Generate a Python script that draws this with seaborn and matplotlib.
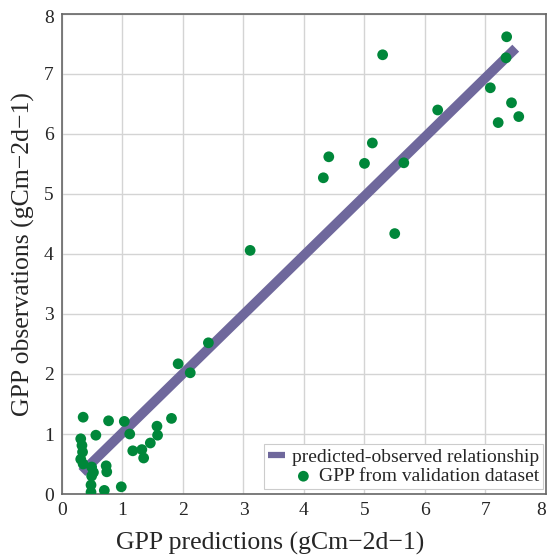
import matplotlib
matplotlib.use("Agg")
import matplotlib.pyplot as plt
import matplotlib.transforms as mtransforms
import seaborn as sns
import pandas as pd

# Data
pred = [0.35, 0.77, 1.03, 1.81, 1.57, 1.58, 0.56, 1.12, 1.46, 0.31, 0.33, 0.34, 0.31, 0.35,
        1.17, 1.32, 1.35, 0.73, 0.74, 0.49, 0.52, 0.49, 0.48, 0.48, 0.70, 0.98,
        2.42, 1.92, 2.12, 3.11,
        7.35, 7.34, 5.30, 7.08, 7.43, 7.55, 7.21, 6.21, 5.13, 4.41, 4.32, 5.00, 5.65, 5.50]
obs = [1.28, 1.22, 1.21, 1.26, 1.13, 0.98, 0.98, 1.00, 0.85, 0.92, 0.81, 0.70, 0.58, 0.50,
       0.72, 0.74, 0.60, 0.47, 0.37, 0.45, 0.36, 0.30, 0.15, 0.03, 0.06, 0.12,
       2.52, 2.17, 2.02, 4.06,
       7.62, 7.27, 7.32, 6.77, 6.52, 6.29, 6.19, 6.40, 5.85, 5.62, 5.27, 5.51, 5.52, 4.34]
line_x = [0.33, 7.50]
line_y = [0.36, 7.43]
ticks = [0, 1, 2, 3, 4, 5, 6, 7, 8]

sns.set_theme(style="whitegrid")
plt.rcParams['font.family'] = ['Liberation Serif', 'DejaVu Serif']

fig = plt.figure(figsize=(5.49, 5.57), dpi=100)
ax = fig.add_axes([0.1129, 0.1131, 0.8816, 0.8618])

sns.lineplot(x=line_x, y=line_y, ax=ax, color="#6f689c", linewidth=7,
             label="predicted-observed relationship", solid_capstyle="butt")
sns.scatterplot(x=pred, y=obs, ax=ax, color="#00873a", s=60, edgecolor="none",
                label="GPP from validation dataset", zorder=3)

ax.set_xlim(0, 8)
ax.set_ylim(0, 8)
ax.set_xticks(ticks)
ax.set_yticks(ticks)
ax.set_xticklabels([str(t) for t in ticks], fontsize=14)
ax.set_yticklabels([str(t) for t in ticks], fontsize=14)
ax.tick_params(axis="x", length=0, pad=6)
ax.tick_params(axis="y", length=0, pad=6)
ax.get_xticklabels()[-1].set_horizontalalignment("right")
shift = mtransforms.ScaledTranslation(0, -3 / 100, fig.dpi_scale_trans)
ylab_top = ax.get_yticklabels()[-1]
ylab_top.set_transform(ylab_top.get_transform() + shift)
ax.grid(True, color="#d4d4d4", linewidth=1)
for s in ax.spines.values():
    s.set_color("#666666")
    s.set_linewidth(1.2)
ax.set_xlabel("GPP predictions (gCm\u22122d\u22121)", fontsize=18.5)
ax.set_ylabel("GPP observations (gCm\u22122d\u22121)", fontsize=18.5)
ax.xaxis.set_label_coords(0.43, -0.078)
ax.yaxis.set_label_coords(-0.056, 0.5)

leg = ax.legend(loc="lower right", bbox_to_anchor=(0.994, 0.010), fontsize=14,
                frameon=True, framealpha=1, edgecolor="#cccccc", fancybox=False,
                handlelength=0.9, borderpad=0.2, labelspacing=0.1,
                handletextpad=0.35, borderaxespad=0)
leg.get_frame().set_linewidth(0.8)
leg.get_lines()[0].set_linewidth(4.5)
for col in leg._legend_handle_box.get_children():
    col.align = "right"

fig.savefig("out.png", dpi=100)
